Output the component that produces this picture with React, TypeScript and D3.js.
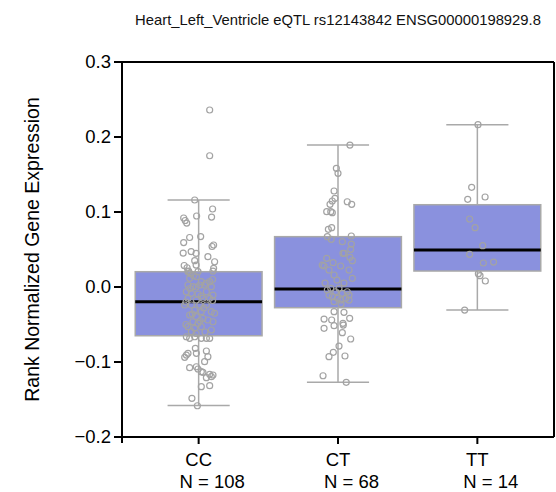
import React from "react";
import * as d3 from "d3";

const categories = ["CC", "CT", "TT"];
const counts = [108, 68, 14];
const yTicks = [-0.2, -0.1, 0.0, 0.1, 0.2, 0.3];
const titleText = "Heart_Left_Ventricle eQTL rs12143842 ENSG00000198929.8";
const yLabel = "Rank Normalized Gene Expression";

// box statistics
const lowWhiskers = [-0.158, -0.1271, -0.0307];
const q1s = [-0.065, -0.0276, 0.0213];
const medians = [-0.0196, -0.0027, 0.0493];
const q3s = [0.0204, 0.0671, 0.1097];
const highWhiskers = [0.116, 0.1893, 0.2164];

// points: value, horizontal jitter (fraction of box width)
const ccValues = [
  0.236, 0.175, 0.116, 0.104, 0.092, 0.0887, 0.0853, 0.0947, 0.0933, 0.066, 0.0673, 0.0593, 0.054, 0.056, 0.0453, 0.0473, 0.0449, 0.0404, 0.0351, 0.0337, 0.0287, 0.0257, 0.0293, 0.0249, 0.0213, 0.018,
  0.0204, 0.0204, 0.0213, 0.0116, 0.0137, 0.0071, 0.0071, 0.0027, 0.0004, 0.0027, 0.0027, 0.0004, -0.0063, -0.0084, -0.0093, -0.0063, -0.0107, -0.0151, -0.0173, -0.0151, -0.0151, -0.024, -0.024, -0.024, -0.024, -0.0307, -0.0329, -0.0329, -0.0351, -0.0373, -0.0396, -0.0417, -0.0463, -0.0484, -0.044, -0.0463, -0.0529, -0.0551, -0.0529, -0.0596, -0.0573, -0.0663, -0.0684, -0.0663, -0.0684, -0.0684, -0.0684,
  -0.0817, -0.0853, -0.0907, -0.0884, -0.0937, -0.0884, -0.0929, -0.0996, -0.1076, -0.1063, -0.1093, -0.1129, -0.1137, -0.1164, -0.1196, -0.1209, -0.1173, -0.1329, -0.1316, -0.1484, -0.1583,
  0.015, 0.005, -0.002, -0.012, -0.02, -0.028, -0.036, 0.01, -0.045, -0.05, -0.06, 0.0, -0.018, -0.062,
];
const ccJitter = [
  0.087, 0.087, -0.031, 0.11, -0.118, -0.106, -0.094, -0.016, 0.102, -0.071, 0.016, -0.118, 0.106, 0.118, -0.122, -0.059, -0.02, 0.073, -0.031, 0.126, -0.114, -0.091, -0.02, 0.118, -0.079, -0.067,
  -0.084, -0.005, 0.113, -0.071, -0.018, 0.021, 0.087, -0.084, -0.045, 0.008, 0.047, 0.1, -0.097, -0.057, -0.005, 0.061, 0.113, -0.084, -0.018, 0.034, 0.087, -0.11, -0.057, 0.008, 0.061, -0.031, 0.021, 0.1, 0.126, -0.071, -0.018, 0.034, -0.045, -0.005, 0.073, 0.113, -0.084, -0.031, 0.021, -0.057, 0.1, -0.097, -0.071, -0.031, 0.021, 0.061, 0.087,
  -0.026, 0.061, -0.097, -0.084, -0.11, -0.018, 0.073, 0.047, -0.071, -0.018, -0.005, 0.021, 0.034, 0.087, 0.1, 0.061, 0.113, 0.021, 0.087, -0.053, -0.01,
  -0.04, 0.06, -0.07, 0.02, -0.1, 0.04, -0.05, 0.11, 0.01, -0.1, 0.05, -0.02, 0.11, -0.02,
];
const ctValues = [
  0.1893, 0.1583, 0.1516, 0.128, 0.1183, 0.1147, 0.1103, 0.1137, 0.1103, 0.1004, 0.1004, 0.0991, 0.0769, 0.0791, 0.0671, 0.0636, 0.068, 0.0604, 0.0573, 0.0503, 0.0449, 0.0382, 0.0396, 0.0324, 0.028, 0.028, 0.0227, 0.0227, 0.0116,
  -0.004, -0.0017, -0.0063, -0.0017, -0.0084, -0.0063, -0.0107, -0.0107, -0.0129, -0.0151, -0.0173, -0.0151, -0.0196, -0.0173,
  -0.0329, -0.0337, -0.0427, -0.044, -0.0418, -0.0551, -0.0516, -0.0484, -0.0507, -0.0609, -0.0693, -0.0787, -0.0871, -0.0929, -0.092, -0.1183, -0.1271,
  0.0351, 0.0293, 0.016, 0.0053, 0.0053, 0.0093, -0.0227, 0.045,
];
const ctJitter = [
  0.094, -0.013, 0.0, -0.031, -0.024, -0.045, -0.063, 0.073, 0.108, -0.089, -0.057, -0.045, -0.076, -0.05, -0.084, -0.053, 0.105, 0.034, 0.105, 0.1, 0.039, -0.089, 0.094, -0.039, -0.11, 0.021, 0.087, -0.071, 0.113,
  -0.084, -0.057, -0.018, 0.008, 0.034, 0.073, 0.087, -0.071, -0.045, -0.005, 0.021, 0.061, -0.031, 0.087,
  -0.031, 0.047, -0.11, -0.05, 0.092, -0.11, -0.031, 0.039, 0.042, 0.034, 0.1, 0.008, -0.037, -0.071, 0.055, -0.118, 0.065,
  0.113, -0.124, -0.031, 0.047, -0.102, -0.008, 0.024, 0.05,
];
const ttValues = [0.2164, 0.1329, 0.1169, 0.12, 0.0907, 0.0791, 0.0551, 0.0436, 0.032, 0.0333, 0.0178, 0.0151, 0.008, -0.0307];
const ttJitter = [0.005, -0.045, -0.076, 0.061, -0.061, -0.018, 0.042, -0.061, 0.047, 0.128, 0.008, 0.021, 0.063, -0.1];

const W = 556;
const H = 492;
const left = 122;
const right = 554;
const top = 62;
const bottom = 437;

const FONT = "'Liberation Sans', Arial, sans-serif";

export default function App() {
  const x = d3.scalePoint<string>().domain(categories).range([left, right]).padding(0.55);
  const y = d3.scaleLinear().domain([-0.2, 0.3]).range([bottom, top]);
  const step = x.step();
  const boxW = step * 0.91;
  const capW = boxW * 0.49;

  const groups = [
    { values: ccValues, jitter: ccJitter },
    { values: ctValues, jitter: ctJitter },
    { values: ttValues, jitter: ttJitter },
  ];

  const boxFill = "#8a91de";
  const gray = "#a9a9a9";

  return (
    <svg
      width={W}
      height={H}
      style={{ position: "absolute", left: 0, top: 0, display: "block", background: "#fff" }}
      fontFamily={FONT}
    >
      <rect x={0} y={0} width={W} height={H} fill="#fff" />
      <text x={338} y={25} textAnchor="middle" fontSize={14.8} fill="#111">
        {titleText}
      </text>

      {categories.map((c, i) => {
        const cx = x(c) as number;
        return (
          <g key={c}>
            <line x1={cx} x2={cx} y1={y(lowWhiskers[i])} y2={y(highWhiskers[i])} stroke={gray} strokeWidth={1.5} />
            <line x1={cx - capW / 2} x2={cx + capW / 2} y1={y(highWhiskers[i])} y2={y(highWhiskers[i])} stroke={gray} strokeWidth={1.5} />
            <line x1={cx - capW / 2} x2={cx + capW / 2} y1={y(lowWhiskers[i])} y2={y(lowWhiskers[i])} stroke={gray} strokeWidth={1.5} />
            <rect
              x={cx - boxW / 2}
              y={y(q3s[i])}
              width={boxW}
              height={y(q1s[i]) - y(q3s[i])}
              fill={boxFill}
              stroke={gray}
              strokeWidth={1.5}
            />
            <line x1={cx - boxW / 2} x2={cx + boxW / 2} y1={y(medians[i])} y2={y(medians[i])} stroke="#000" strokeWidth={3} />
            {groups[i].values.map((v, k) => (
              <circle
                key={k}
                cx={cx + groups[i].jitter[k] * boxW}
                cy={y(v)}
                r={3}
                fill="none"
                stroke="#a3a3a3"
                strokeWidth={1.2}
              />
            ))}
          </g>
        );
      })}

      {/* frame */}
      <line x1={left} x2={right} y1={top} y2={top} stroke="#000" strokeWidth={2} />
      <line x1={right} x2={right} y1={top} y2={bottom} stroke="#000" strokeWidth={2} />
      <line x1={left} x2={right} y1={bottom} y2={bottom} stroke="#000" strokeWidth={2} />
      <line x1={left} x2={left} y1={top} y2={bottom + 6} stroke="#000" strokeWidth={2} />

      {/* y ticks */}
      {yTicks.map((t) => (
        <g key={t}>
          <line x1={left - 8} x2={left} y1={y(t)} y2={y(t)} stroke="#000" strokeWidth={2} />
          <text x={left - 11} y={y(t)} dy="0.35em" textAnchor="end" fontSize={18.5} fill="#000">
            {d3.format(".1f")(t)}
          </text>
        </g>
      ))}

      {/* x ticks */}
      {categories.map((c, i) => {
        const cx = x(c) as number;
        return (
          <g key={c}>
            <line x1={cx} x2={cx} y1={bottom} y2={bottom + 7} stroke="#000" strokeWidth={2} />
            <text x={cx} y={466} textAnchor="middle" fontSize={18.5} fill="#000">
              {c}
            </text>
            <text x={cx + 13.5} y={488} textAnchor="middle" fontSize={18.5} fill="#000">
              {`N = ${counts[i]}`}
            </text>
          </g>
        );
      })}

      <text
        transform={`translate(39, ${(top + bottom) / 2}) rotate(-90)`}
        textAnchor="middle"
        fontSize={19.5}
        fill="#000"
      >
        {yLabel}
      </text>
    </svg>
  );
}
